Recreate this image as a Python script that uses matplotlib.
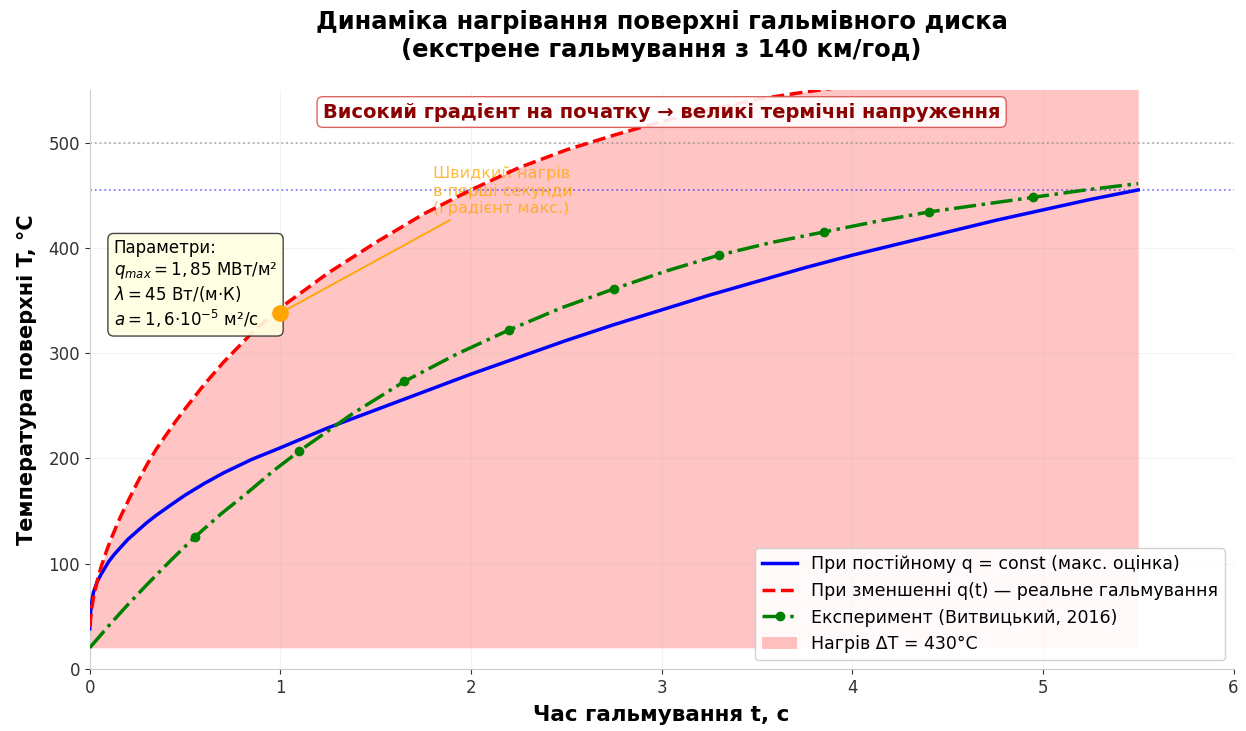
import matplotlib
matplotlib.use('Agg')
import matplotlib.pyplot as plt

plt.rcParams['font.family'] = ['DejaVu Sans']

# постійний тепловий потік (макс. оцінка)
t_const = [0, 0.005, 0.01, 0.02, 0.04, 0.06, 0.08, 0.1, 0.13, 0.165, 0.2, 0.25, 0.3,
           0.35, 0.42, 0.5, 0.6, 0.7, 0.85, 1.0, 1.25, 1.5, 1.75, 2.0, 2.25, 2.5,
           2.75, 3.0, 3.25, 3.5, 3.75, 4.0, 4.25, 4.5, 4.75, 5.0, 5.25, 5.5]
T_const = [38, 55, 63, 73, 83, 90, 96, 102, 109, 116, 123, 131, 139,
           146, 155, 165, 176, 186, 199, 210, 229, 246, 263, 280, 296, 312,
           327, 341, 355, 368, 381, 393, 404, 415, 426, 436, 446, 455]

# зменшення q(t) — реальне гальмування
t_real = [0, 0.01, 0.02, 0.04, 0.06, 0.09, 0.12, 0.16, 0.2, 0.25, 0.3, 0.35, 0.4,
          0.45, 0.5, 0.6, 0.7, 0.85, 1.0, 1.25, 1.5, 1.75, 2.0, 2.25, 2.5, 2.75,
          3.0, 3.25, 3.5, 3.75, 4.0, 4.5, 5.0, 5.5]
T_real = [40, 57, 68, 84, 97, 113, 127, 144, 159, 177, 194, 209, 222,
          235, 247, 270, 291, 319, 343, 376, 405, 432, 455, 476, 493, 507,
          520, 531, 541, 548, 554, 564, 572, 580]

# експеримент (Витвицький, 2016)
t_exp = [0, 0.1, 0.2, 0.3, 0.425, 0.55, 0.6875, 0.825, 0.9625, 1.1, 1.375, 1.65,
         1.925, 2.2, 2.475, 2.75, 3.025, 3.3, 3.575, 3.85, 4.125, 4.4, 4.675,
         4.95, 5.225, 5.5]
T_exp = [20, 41, 61, 80, 103, 125, 147, 167, 188, 207, 242, 273,
         299, 322, 343, 361, 378, 393, 405, 415, 425, 434, 441,
         448, 455, 461]
exp_marks = [5, 9, 11, 13, 15, 17, 19, 21, 23]

T0 = 20
T_lim = 500
T_final = 455
t_point, T_point = 1.0, 338

fig, ax = plt.subplots(figsize=(12.46, 7.31), dpi=100)
fig.subplots_adjust(left=0.072, right=0.99, bottom=0.085, top=0.877)

l1, = ax.plot(t_const, T_const, color='blue', lw=2.5,
              label='При постійному q = const (макс. оцінка)', zorder=3)
l2, = ax.plot(t_real, T_real, color='red', ls='--', lw=2.5,
              label='При зменшенні q(t) — реальне гальмування', zorder=4)
l3, = ax.plot(t_exp, T_exp, color='green', ls='-.', lw=2.5, marker='o', markersize=6,
              markevery=exp_marks, label='Експеримент (Витвицький, 2016)', zorder=3)
f1 = ax.fill_between(t_real, T0, T_real, color='red', alpha=0.23, linewidth=0,
                     label='Нагрів ΔT = 430°C', zorder=1)

ax.axhline(T_lim, color='gray', ls=':', lw=1.3, alpha=0.6, zorder=2)
ax.axhline(T_final, color='blue', ls=':', lw=1.3, alpha=0.5, zorder=2)

# точка максимального градієнта
ax.plot(t_point, T_point, 'o', color='orange', markersize=11, zorder=6)
ax.annotate('Швидкий нагрів\nв перші секунди\n(градієнт макс.)',
            xy=(t_point, T_point), xytext=(1.8, 433),
            fontsize=11.5, color='orange', alpha=0.75, zorder=2,
            arrowprops=dict(arrowstyle='-', color='orange', lw=1.3))

ax.text(3.0, 529, 'Високий градієнт на початку → великі термічні напруження',
        ha='center', va='center', fontsize=14, fontweight='bold', color='darkred',
        bbox=dict(boxstyle='round,pad=0.3', facecolor='white', edgecolor='#d9534f',
                  alpha=0.9), zorder=7)

ax.text(0.021, 0.742,
        'Параметри:\n$q_{max} = 1,85$ МВт/м²\n$\\lambda = 45$ Вт/(м·К)\n$a = 1,6·10^{-5}$ м²/с',
        transform=ax.transAxes, va='top', ha='left', fontsize=12,
        bbox=dict(boxstyle='round,pad=0.35', facecolor='lightyellow', edgecolor='#333333',
                  alpha=0.9), zorder=5)

ax.set_xlim(0, 6)
ax.set_ylim(0, 550)
ax.set_xticks([0, 1, 2, 3, 4, 5, 6])
ax.set_yticks([0, 100, 200, 300, 400, 500])
ax.tick_params(labelsize=12, colors='#333333')
ax.grid(True, alpha=0.15)

for s in ['top', 'right']:
    ax.spines[s].set_visible(False)
for s in ['left', 'bottom']:
    ax.spines[s].set_color('#cccccc')

ax.set_xlabel('Час гальмування t, с', fontsize=15.5, fontweight='bold', labelpad=6)
ax.set_ylabel('Температура поверхні T, °C', fontsize=15, fontweight='bold', labelpad=8)
ax.set_title('Динаміка нагрівання поверхні гальмівного диска\n(екстрене гальмування з 140 км/год)',
             fontsize=17.5, fontweight='bold', pad=24)

ax.legend(handles=[l1, l2, l3, f1], loc='lower right', fontsize=12.5, framealpha=0.9)

plt.savefig('out.png', dpi=100)
